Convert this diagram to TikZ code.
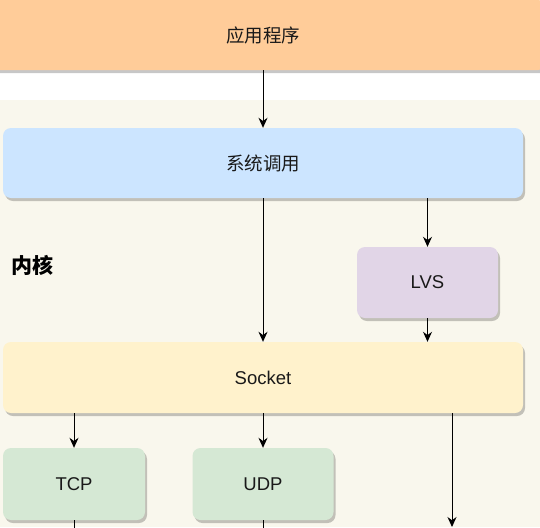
\documentclass[tikz,border=0pt]{standalone}
\usepackage{fontspec}
\setmainfont{Liberation Sans}
\newfontfamily\cjk{Noto Sans CJK SC}
\usetikzlibrary{arrows.meta,shadows}

\definecolor{appfill}{HTML}{FFCC99}
\definecolor{sysfill}{HTML}{CCE5FF}
\definecolor{lvsfill}{HTML}{E1D5E7}
\definecolor{sockfill}{HTML}{FFF2CC}
\definecolor{protofill}{HTML}{D5E8D4}
\definecolor{kernelbg}{HTML}{F9F7ED}

\tikzset{
  box/.style={rectangle, rounded corners=8pt, text=black!90,
    font=\fontsize{18.5}{22}\selectfont,
    drop shadow={shadow xshift=2pt, shadow yshift=-3pt, fill=black, opacity=0.22}},
  arr/.style={-{Stealth[length=10pt,width=9pt]}, line width=1pt, black}
}

\begin{document}
\begin{tikzpicture}[x=1pt,y=-1pt]

\useasboundingbox (0,0) rectangle (540,527);
\clip (0,0) rectangle (540,527);

%%%%%%%%%%%%%%%%%%%%%%%%
% user space
%%%%%%%%%%%%%%%%%%%%%%%%

\fill[kernelbg] (0,100) rectangle (540,527);

\node[box, fill=appfill, minimum width=566pt, minimum height=70pt] (app) at (263,35) {\cjk 应用程序};

%%%%%%%%%%%%%%%%%%%%%%%%
% kernel
%%%%%%%%%%%%%%%%%%%%%%%%

\node[font=\fontsize{21}{24}\selectfont\bfseries, text=black] (kern) at (32,265) {\cjk 内核};

\node[box, fill=sysfill, minimum width=520pt, minimum height=70pt] (sys) at (263,163) {\cjk 系统调用};
\node[box, fill=lvsfill, minimum width=141pt, minimum height=71pt] (lvs) at (427.5,282.5) {LVS};
\node[box, fill=sockfill, minimum width=520pt, minimum height=71pt] (sock) at (263,377.5) {Socket};
\node[box, fill=protofill, minimum width=142pt, minimum height=72pt] (tcp) at (74,484) {TCP};
\node[box, fill=protofill, minimum width=141pt, minimum height=72pt] (udp) at (263,484) {UDP};

\coordinate (tcpout) at (74,560);
\coordinate (udpout) at (263,560);
\coordinate (rawout) at (452,527);

\draw[arr] (app.south -| sys) -- (sys);
\draw[arr] (sys) -- (sock);
\draw[arr] (sys.south -| lvs) -- (lvs);
\draw[arr] (lvs) -- (sock.north -| lvs);

\draw[arr] (sock.south -| tcp) -- (tcp);
\draw[arr] (sock.south -| udp) -- (udp);
\draw[arr] (sock.south -| rawout) -- (rawout);

\draw[arr] (tcp) -- (tcpout);
\draw[arr] (udp) -- (udpout);

\end{tikzpicture}
\end{document}
